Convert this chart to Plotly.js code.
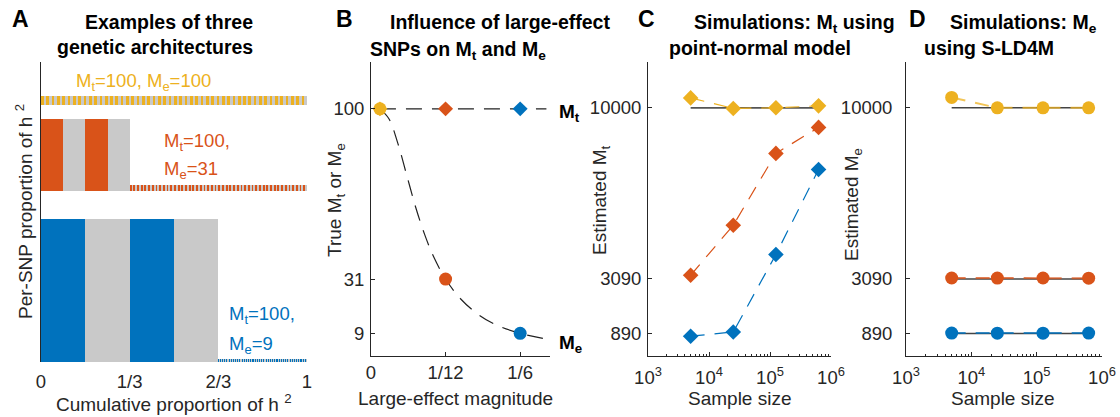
<!DOCTYPE html>
<html>
<head>
<meta charset="utf-8">
<script src="https://cdn.plot.ly/plotly-3.0.1.min.js"></script>
<style>html,body{margin:0;padding:0;background:#fff;}#chart{width:1120px;height:417px;}</style>
</head>
<body>
<div id="chart"></div>
<script>
// ---------------- DATA ----------------
// Panel A / B: three genetic architectures (100 SNPs, 4 large-effect SNPs)
const architectureNames = ['uniform', 'moderate', 'strong'];
const largeEffectMagnitude = [0.01, 1/12, 1/6];
const nLargeSNPs = 4;
const nSNPs = 100;
const trueMt = [100, 100, 100];
const trueMe = [100, 31, 9];

// Panel B: M_e curve
const meCurveMagnitude = [0.01, 0.02, 0.03, 0.04, 0.05, 0.06, 0.07, 1/12, 0.10, 0.12, 0.14, 1/6, 0.194];
const meCurveValue     = [100, 96, 86, 73, 60, 49, 40, 31, 23, 16.6, 12.4, 9, 6.8];
const mtLineMagnitude  = [0.01, 0.196];
const mtLineValue      = [100, 100];

// Panels C / D: simulations
const sampleSize = [5000, 25000, 125000, 625000];
const estMtYellow = [10400, 9975, 10000, 10080];
const estMtOrange = [3240, 5260, 8160, 9210];
const estMtBlue   = [780, 950, 4080, 7510];
const estMeYellow = [10420, 10000, 10000, 10000];
const estMeOrange = [3130, 3125, 3130, 3120];
const estMeBlue   = [905, 900, 902, 905];
const simTrueMt = [10000];
const simTrueMe = [10000, 3090, 890];

// tick labels
const aTickVals = [0, 1/3, 2/3, 1];
const aTickText = ['0', '1/3', '2/3', '1'];
const bTickVals = [0, 1/12, 1/6];
const bTickText = ['0', '1/12', '1/6'];
const bYTickVals = [9, 31, 100];
const simYTickVals = [890, 3090, 10000];
const sizeTickVals = [1e3, 1e4, 1e5, 1e6];
const sizeTickText = ['10<sup>3</sup>', '10<sup>4</sup>', '10<sup>5</sup>', '10<sup>6</sup>'];

// ---------------- STYLE ----------------
const COLORS = ['#EDB120', '#D95319', '#0072BD'];
const GRAY = '#C9C9C9';
const AX = '#262626';
const FONT = 'Liberation Sans, Arial, Helvetica, sans-serif';
const W = 1120, H = 417;
const px = v => v / W;
const py = v => 1 - v / H;
const archBase = [0.30, 0.20, 0.0];

const traces = [];

// Panel A bars
largeEffectMagnitude.forEach((mag, i) => {
  const props = [];
  for (let j = 0; j < nSNPs; j++) props.push(j < nLargeSNPs ? mag : (1 - nLargeSNPs * mag) / (nSNPs - nLargeSNPs));
  let cum = 0;
  const xs = [], ws = [], ys = [], bs = [], cs = [];
  props.forEach((p, j) => {
    xs.push(cum + p / 2); ws.push(p); ys.push(p); bs.push(archBase[i]);
    cs.push(j % 2 === 0 ? COLORS[i] : GRAY);
    cum += p;
  });
  traces.push({type: 'bar', x: xs, y: ys, width: ws, base: bs, xaxis: 'x', yaxis: 'y',
    marker: {color: cs, line: {width: 0}}, hoverinfo: 'skip'});
});

// Panel B
traces.push({x: mtLineMagnitude, y: mtLineValue, xaxis: 'x2', yaxis: 'y2', mode: 'lines',
  line: {color: '#222', width: 1.2, dash: '16px,10px'}});
traces.push({x: meCurveMagnitude, y: meCurveValue, xaxis: 'x2', yaxis: 'y2', mode: 'lines',
  line: {color: '#222', width: 1.2, dash: '16px,10px', shape: 'spline', smoothing: 1}});
traces.push({x: largeEffectMagnitude, y: trueMe, xaxis: 'x2', yaxis: 'y2', mode: 'markers',
  marker: {symbol: 'circle', size: 13, color: COLORS, line: {width: 0}}});
traces.push({x: largeEffectMagnitude, y: trueMt, xaxis: 'x2', yaxis: 'y2', mode: 'markers',
  marker: {symbol: 'diamond', size: 11.5, color: COLORS, line: {width: 0}}});

// Panel C
simTrueMt.forEach(v => traces.push({x: [sampleSize[0], sampleSize[sampleSize.length - 1]], y: [v, v],
  xaxis: 'x3', yaxis: 'y3', mode: 'lines', line: {color: '#555', width: 1.8}}));
[estMtYellow, estMtOrange, estMtBlue].forEach((ys, i) => {
  traces.push({x: sampleSize, y: ys, xaxis: 'x3', yaxis: 'y3', mode: 'lines+markers',
    line: {color: COLORS[i], width: 1.2, dash: '14px,10px'},
    marker: {symbol: 'diamond', size: 12, color: COLORS[i], line: {width: 0}}});
});

// Panel D
simTrueMe.forEach(v => traces.push({x: [sampleSize[0], sampleSize[sampleSize.length - 1]], y: [v, v],
  xaxis: 'x4', yaxis: 'y4', mode: 'lines', line: {color: '#444', width: 1.5}}));
[estMeYellow, estMeOrange, estMeBlue].forEach((ys, i) => {
  traces.push({x: sampleSize, y: ys, xaxis: 'x4', yaxis: 'y4', mode: 'lines', opacity: 0.75,
    line: {color: COLORS[i], width: 2, dash: '14px,10px'}});
  traces.push({x: sampleSize, y: ys, xaxis: 'x4', yaxis: 'y4', mode: 'markers',
    marker: {symbol: 'circle', size: 13, color: COLORS[i], line: {width: 0}}});
});

// minor ticks for log axes
const minorVals = [];
for (let e = 3; e < 6; e++) for (let d = 2; d <= 9; d++) minorVals.push(d * Math.pow(10, e));

const tickFont = {family: FONT, size: 18.5, color: AX};
const baseAxis = {showgrid: false, zeroline: false, showline: true, linecolor: AX, linewidth: 1,
  ticks: 'inside', ticklen: 4, tickcolor: AX, tickfont: tickFont, fixedrange: true};

const dB = [py(355.5), py(62)];
const layout = {
  width: W, height: H, margin: {l: 0, r: 0, t: 0, b: 0},
  paper_bgcolor: '#fff', plot_bgcolor: 'rgba(0,0,0,0)',
  showlegend: false, hovermode: false, barmode: 'overlay', bargap: 0,
  font: {family: FONT, color: AX, size: 18},
  xaxis: Object.assign({}, baseAxis, {domain: [px(41), px(307)], range: [0, 1], anchor: 'y',
    tickmode: 'array', tickvals: aTickVals, ticktext: aTickText, showline: false, ticks: '', ticklabelstandoff: 6}),
  yaxis: Object.assign({}, baseAxis, {domain: [py(362), py(62)], range: [0, 0.35], anchor: 'x',
    showticklabels: false, ticks: '', layer: 'below traces'}),
  xaxis2: Object.assign({}, baseAxis, {domain: [px(371), px(550)], range: [0, 0.2], anchor: 'y2',
    tickmode: 'array', tickvals: bTickVals, ticktext: bTickText, ticklabelstandoff: 0}),
  yaxis2: Object.assign({}, baseAxis, {domain: dB, range: [0, 119], anchor: 'x2',
    tickmode: 'array', tickvals: bYTickVals, ticktext: bYTickVals.map(String), ticklabelstandoff: 2}),
  xaxis3: Object.assign({}, baseAxis, {domain: [px(648), px(831)], type: 'log', range: [3, 6], anchor: 'y3',
    tickmode: 'array', tickvals: sizeTickVals, ticktext: sizeTickText, ticklabelstandoff: 5,
    minor: {tickmode: 'array', tickvals: minorVals, ticks: 'inside', ticklen: 2, tickcolor: AX}}),
  yaxis3: Object.assign({}, baseAxis, {domain: dB, range: [0, 11850], anchor: 'x3',
    tickmode: 'array', tickvals: simYTickVals, ticktext: simYTickVals.map(String), ticklabelstandoff: 2}),
  xaxis4: Object.assign({}, baseAxis, {domain: [px(906), px(1102)], type: 'log', range: [3, 6], anchor: 'y4',
    tickmode: 'array', tickvals: sizeTickVals, ticktext: sizeTickText, ticklabelstandoff: 5,
    minor: {tickmode: 'array', tickvals: minorVals, ticks: 'inside', ticklen: 2, tickcolor: AX}}),
  yaxis4: Object.assign({}, baseAxis, {domain: dB, range: [0, 11850], anchor: 'x4',
    tickmode: 'array', tickvals: simYTickVals, ticktext: simYTickVals.map(String), ticklabelstandoff: 9}),
  annotations: []
};

function ann(text, x, y, opts) {
  layout.annotations.push(Object.assign({text: text, x: px(x), y: py(y), xref: 'paper', yref: 'paper',
    showarrow: false, xanchor: 'left', yanchor: 'middle', font: {family: FONT, size: 19, color: AX}}, opts || {}));
}
const letterFont = {family: FONT, size: 23, color: '#000'};
const titleFont = {family: FONT, size: 19.5, color: '#000'};
const labelFont = c => ({family: FONT, size: 18.5, color: c});
// panel letters
[['A', 20], ['B', 344], ['C', 646], ['D', 917]].forEach(([t, x]) => ann('<b>' + t + '</b>', x, 19, {xanchor: 'center', font: letterFont}));
// titles
ann('<b>Examples of three</b>', 83, 22, {font: titleFont});
ann('<b>genetic architectures</b>', 55, 47, {font: titleFont});
ann('<b>Influence of large-effect</b>', 388, 22, {font: titleFont});
ann('<b>SNPs on M<sub>t</sub> and M<sub>e</sub></b>', 368, 50, {font: titleFont});
ann('<b>Simulations: M<sub>t</sub> using</b>', 692, 24, {font: titleFont});
ann('<b>point-normal model</b>', 667, 48, {font: titleFont});
ann('<b>Simulations: M<sub>e</sub></b>', 948, 24, {font: titleFont});
ann('<b>using S-LD4M</b>', 922, 48, {font: titleFont});
// panel A labels
ann('M<sub>t</sub>=100, M<sub>e</sub>=100', 74, 82, {font: labelFont(COLORS[0])});
ann('M<sub>t</sub>=100,', 162, 142, {font: labelFont(COLORS[1])});
ann('M<sub>e</sub>=31', 162, 170, {font: labelFont(COLORS[1])});
ann('M<sub>t</sub>=100,', 227, 315, {font: labelFont(COLORS[2])});
ann('M<sub>e</sub>=9', 227, 345, {font: labelFont(COLORS[2])});
// panel B labels
ann('<b>M<sub>t</sub></b>', 557, 113, {font: {family: FONT, size: 19, color: '#000'}});
ann('<b>M<sub>e</sub></b>', 557, 344, {font: {family: FONT, size: 19, color: '#000'}});
// axis titles
ann('Cumulative proportion of h <sup>2</sup>', 174, 403, {xanchor: 'center'});
ann('Per-SNP proportion of h <sup>2</sup>', 24, 212, {xanchor: 'center', textangle: -90});
ann('Large-effect magnitude', 455, 398, {xanchor: 'center'});
ann('True M<sub>t</sub> or M<sub>e</sub>', 336, 200, {xanchor: 'center', textangle: -90});
ann('Sample size', 740, 398, {xanchor: 'center'});
ann('Estimated M<sub>t</sub>', 601, 200, {xanchor: 'center', textangle: -90});
ann('Sample size', 1003, 398, {xanchor: 'center'});
ann('Estimated M<sub>e</sub>', 853, 205, {xanchor: 'center', textangle: -90});

Plotly.newPlot('chart', traces, layout, {staticPlot: true, displayModeBar: false});
</script>
</body>
</html>
